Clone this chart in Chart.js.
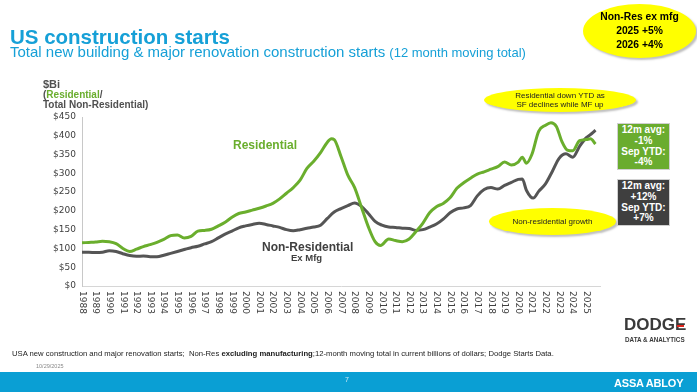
<!DOCTYPE html>
<html>
<head>
<meta charset="utf-8">
<script src="https://cdn.jsdelivr.net/npm/chart.js@4.4.1/dist/chart.umd.min.js"></script>
<style>
  body { margin: 0; width: 697px; height: 392px; overflow: hidden; background: #fff; position: relative; font-family: "Liberation Sans", Arial, sans-serif; }
  .abs { position: absolute; }
  #chartBox { position: absolute; left: 0; top: 0; width: 697px; height: 392px; }
  #title { left: 10px; top: 25px; font-size: 20.5px; font-weight: bold; color: #16a0d7; white-space: nowrap; }
  #subtitle { left: 10px; top: 43px; font-size: 15px; color: #16a0d7; white-space: nowrap; }
  #subtitle small { font-size: 13px; }
  #unit { left: 43px; top: 80px; font-size: 10px; font-weight: bold; color: #505050; line-height: 9.8px; }
  #unit .big { font-size: 11px; }
  #unit .g { color: #6aae2d; }
  .ellipse { background: #ffff00; border-radius: 50%; box-shadow: 2px 2px 2px rgba(0,0,0,0.25); display: flex; align-items: center; justify-content: center; text-align: center; color: #222; white-space: nowrap; }
  #eTop { left: 583px; top: 4px; width: 113px; height: 54px; font-size: 10.3px; font-weight: bold; line-height: 14px; color: #000; }
  #eRes { left: 484px; top: 88px; width: 152px; height: 24px; font-size: 8px; line-height: 9px; }
  #eNon { left: 489px; top: 208px; width: 127px; height: 27px; font-size: 8px; }
  .box { width: 51px; color: #fff; font-weight: bold; font-size: 10px; line-height: 10.8px; text-align: center; border: 1px solid #d0d0d0; padding-top: 1px; white-space: nowrap; }
  #boxRes { left: 617px; top: 123px; height: 44px; background: #6aac2e; }
  #boxNon { left: 617px; top: 179px; height: 44px; background: #3f3f3f; }
  #lblRes { left: 233px; top: 138px; font-size: 12px; font-weight: bold; color: #6aae2d; }
  #lblNon { left: 262px; top: 240px; font-size: 12px; font-weight: bold; color: #404040; }
  #lblMfg { left: 291px; top: 252px; font-size: 9.5px; font-weight: bold; color: #404040; }
  #footnote { left: 12px; top: 349px; font-size: 7.7px; color: #222; white-space: nowrap; }
  #date { left: 36px; top: 363px; font-size: 5.5px; color: #888; }
  #band { left: 0; top: 372px; width: 697px; height: 20px; background: #0a9fd4; }
  #page { left: 345px; top: 376px; font-size: 7px; color: #cfeaf5; }
  #assa { left: 614px; top: 377px; font-size: 11px; font-weight: bold; color: #fff; letter-spacing: -0.2px; }
  #dodge { left: 624px; top: 315px; font-size: 17px; font-weight: bold; color: #3a3a3a; }
  #dodgeSub { left: 625px; top: 336px; font-size: 6.3px; font-weight: bold; color: #3a3a3a; }
  #dodgeRed { left: 677px; top: 325px; width: 7px; height: 2px; background: #e2231a; }
</style>
</head>
<body>
<div id="chartBox"><canvas id="startsChart" width="697" height="392"></canvas></div>

<div class="abs" id="title">US construction starts</div>
<div class="abs" id="subtitle">Total new building &amp; major renovation construction starts <small>(12 month moving total)</small></div>
<div class="abs" id="unit"><span class="big">$Bi</span><br>(<span class="g">Residential</span>/<br>Total Non-Residential)</div>

<div class="abs ellipse" id="eTop">Non-Res ex mfg<br>2025 +5%<br>2026 +4%</div>
<div class="abs ellipse" id="eRes">Residential down YTD as<br>SF declines while MF up</div>
<div class="abs ellipse" id="eNon">Non-residential growth</div>

<div class="abs box" id="boxRes">12m avg:<br>-1%<br>Sep YTD:<br>-4%</div>
<div class="abs box" id="boxNon">12m avg:<br>+12%<br>Sep YTD:<br>+7%</div>

<div class="abs" id="lblRes">Residential</div>
<div class="abs" id="lblNon">Non-Residential</div>
<div class="abs" id="lblMfg">Ex Mfg</div>

<div class="abs" id="dodge">DODGE</div>
<div class="abs" id="dodgeRed"></div>
<div class="abs" id="dodgeSub">DATA &amp; ANALYTICS</div>

<div class="abs" id="footnote">USA new construction and major renovation starts;&nbsp; Non-Res <b>excluding manufacturing</b>;12-month moving total in current billions of dollars; Dodge Starts Data.</div>
<div class="abs" id="date">10/29/2025</div>
<div class="abs" id="band"></div>
<div class="abs" id="page">7</div>
<div class="abs" id="assa">ASSA ABLOY</div>

<script>
// 12 month moving totals, $ billions
const resYears = [1988, 1988.5, 1989, 1989.5, 1990, 1990.5, 1991, 1991.5, 1992, 1992.5,
  1993, 1993.5, 1994, 1994.5, 1995, 1995.5, 1996, 1996.5, 1997, 1997.5,
  1998, 1998.5, 1999, 1999.5, 2000, 2000.5, 2001, 2001.5, 2002, 2002.5,
  2003, 2003.5, 2004, 2004.5, 2005, 2005.5, 2006, 2006.3, 2006.5, 2007,
  2007.5, 2008, 2008.5, 2009, 2009.5, 2009.9, 2010.5, 2011, 2011.5, 2012,
  2012.5, 2013, 2013.5, 2014, 2014.5, 2015, 2015.5, 2016, 2016.5, 2017,
  2017.5, 2018, 2018.5, 2019, 2019.5, 2020, 2020.3, 2020.6, 2021, 2021.5,
  2022, 2022.4, 2022.8, 2023.2, 2023.6, 2024, 2024.5, 2025, 2025.3, 2025.67];
const resValues = [115, 116, 117, 119, 118, 113, 100, 92, 98, 105,
  110, 116, 124, 134, 136, 128, 132, 146, 148, 151,
  160, 170, 183, 193, 197, 202, 207, 213, 220, 232,
  247, 262, 282, 313, 332, 355, 383, 392, 390, 345,
  295, 262, 210, 158, 118, 108, 125, 121, 118, 125,
  145, 167, 195, 211, 220, 235, 260, 275, 287, 298,
  304, 311, 318, 330, 322, 330, 343, 327, 350, 412,
  428, 435, 425, 385, 362, 360, 387, 390, 392, 378];

const nonResYears = [1988, 1988.5, 1989, 1989.5, 1990, 1990.5, 1991, 1991.5, 1992, 1992.5,
  1993, 1993.5, 1994, 1994.5, 1995, 1995.5, 1996, 1996.5, 1997, 1997.5,
  1998, 1998.5, 1999, 1999.5, 2000, 2000.5, 2001, 2001.5, 2002, 2002.5,
  2003, 2003.5, 2004, 2004.5, 2005, 2005.5, 2006, 2006.5, 2007, 2007.5,
  2008, 2008.5, 2009, 2009.5, 2010, 2010.5, 2011, 2011.5, 2012, 2012.5,
  2013, 2013.5, 2014, 2014.5, 2015, 2015.5, 2016, 2016.5, 2017, 2017.5,
  2018, 2018.5, 2019, 2019.5, 2020, 2020.3, 2020.6, 2021.1, 2021.5, 2022,
  2022.5, 2023, 2023.5, 2024, 2024.5, 2025, 2025.4, 2025.67];
const nonResValues = [90, 90, 89, 90, 94, 92, 86, 81, 79, 80,
  78, 78, 82, 87, 92, 97, 102, 106, 112, 118,
  128, 138, 146, 155, 160, 164, 167, 164, 160, 156,
  150, 147, 150, 154, 157, 162, 180, 197, 206, 214,
  221, 212, 193, 172, 162, 157, 156, 154, 153, 148,
  150, 157, 165, 178, 195, 205, 208, 214, 240, 257,
  262, 258, 268, 276, 284, 285, 255, 234, 252, 272,
  305, 340, 352, 343, 372, 395, 406, 415];

const yearLabels = ["1988", "1989", "1990", "1991", "1992", "1993", "1994", "1995", "1996", "1997",
  "1998", "1999", "2000", "2001", "2002", "2003", "2004", "2005", "2006", "2007",
  "2008", "2009", "2010", "2011", "2012", "2013", "2014", "2015", "2016", "2017",
  "2018", "2019", "2020", "2021", "2022", "2023", "2024", "2025"];
const yTicks = [0, 50, 100, 150, 200, 250, 300, 350, 400, 450];

function toPoints(xs, ys) {
  return xs.map((x, i) => ({ x: x, y: ys[i] }));
}

// year labels read top to bottom, which chart.js can't rotate that way
const yearLabelPlugin = {
  id: "yearLabels",
  afterDraw(chart) {
    const ctx = chart.ctx;
    const xScale = chart.scales.x;
    ctx.save();
    ctx.font = "9px 'DejaVu Sans'";
    ctx.fillStyle = "#404040";
    ctx.textAlign = "left";
    ctx.textBaseline = "middle";
    yearLabels.forEach((label) => {
      const px = xScale.getPixelForValue(Number(label));
      ctx.save();
      ctx.translate(px, xScale.top + 5);
      ctx.rotate(Math.PI / 2);
      ctx.fillText(label, 0, 0);
      ctx.restore();
    });
    ctx.restore();
  },
};

document.addEventListener("DOMContentLoaded", function () {
  const ctx = document.getElementById("startsChart");

  const data = {
    datasets: [
      {
        label: "Residential",
        data: toPoints(resYears, resValues),
        borderColor: "#6aae2d",
        borderWidth: 3,
        pointRadius: 0,
        cubicInterpolationMode: "monotone",
      },
      {
        label: "Non-Residential",
        data: toPoints(nonResYears, nonResValues),
        borderColor: "#555555",
        borderWidth: 3,
        pointRadius: 0,
        cubicInterpolationMode: "monotone",
      },
    ],
  };

  const config = {
    type: "line",
    data: data,
    options: {
      responsive: false,
      animation: false,
      layout: { padding: { left: 0, right: 97, top: 117, bottom: 76 } },
      scales: {
        x: {
          type: "linear",
          min: 1988,
          max: 2026,
          ticks: { display: false },
          grid: { drawOnChartArea: false, drawTicks: false },
          border: { color: "#d6d6d6", width: 1 },
          afterFit: (s) => { s.height = 30; },
        },
        y: {
          min: 0,
          max: 450,
          afterBuildTicks: (s) => { s.ticks = yTicks.map((v) => ({ value: v })); },
          ticks: {
            padding: 6,
            color: "#404040",
            font: { family: "DejaVu Sans", size: 9 },
            callback: (v) => "$" + v,
          },
          grid: { drawOnChartArea: false, drawTicks: false },
          border: { color: "#c8c8c8", width: 1 },
          afterFit: (s) => { s.width = 82; },
        },
      },
      plugins: {
        legend: { display: false },
        tooltip: { enabled: false },
      },
    },
    plugins: [yearLabelPlugin],
  };

  const startsChart = new Chart(ctx, config);
});
</script>
</body>
</html>
